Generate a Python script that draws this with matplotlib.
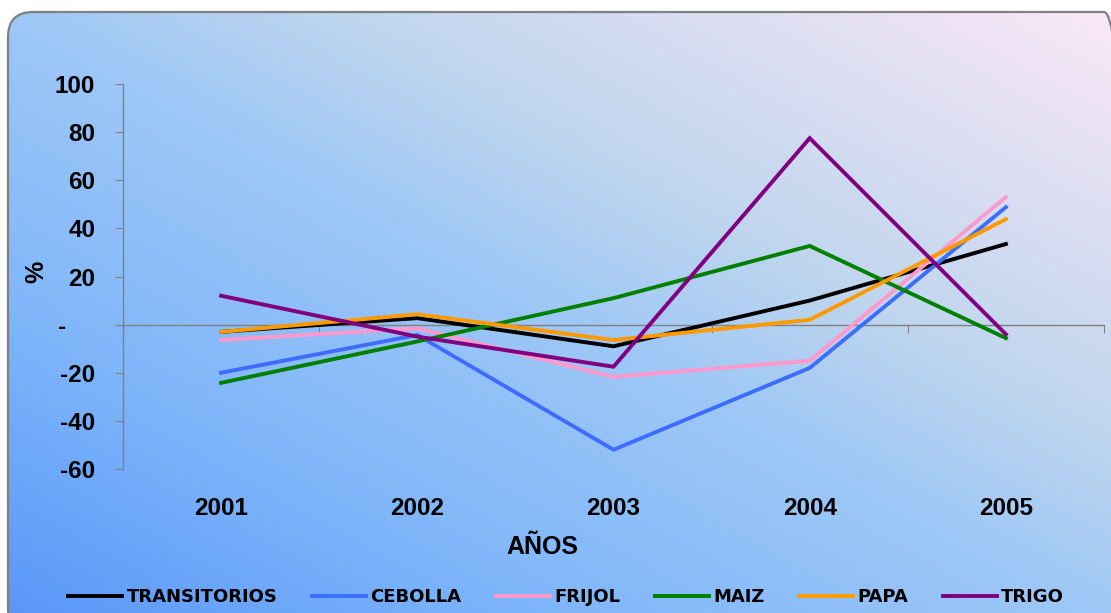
import matplotlib
matplotlib.use("Agg")
import matplotlib.pyplot as plt
import numpy as np
from matplotlib.colors import LinearSegmentedColormap
from matplotlib.patches import FancyBboxPatch
from matplotlib.ticker import FixedLocator, FixedFormatter
from matplotlib.transforms import ScaledTranslation

plt.rcParams['font.family'] = ['Liberation Sans', 'DejaVu Sans']

# data (% change per year)
years = ['2001', '2002', '2003', '2004', '2005']
transitorios = [-3, 2.7, -9, 10, 33.5]
cebolla = [-20, -4.3, -52, -18, 48.8]
frijol = [-6.4, -1.5, -21.7, -15, 53]
maiz = [-24.2, -7, 11, 32.7, -5.6]
papa = [-3, 4.3, -6.4, 2, 43.8]
trigo = [12, -5, -17.5, 77.5, -4]

series_names = ['TRANSITORIOS', 'CEBOLLA', 'FRIJOL', 'MAIZ', 'PAPA', 'TRIGO']
series_colors = ['#000000', '#3d6dff', '#ff99cc', '#008000', '#ff9900', '#800080']
y_ticks = [-60, -40, -20, 0, 20, 40, 60, 80, 100]
y_tick_labels = ['-60', '-40', '-20', '-', '20', '40', '60', '80', '100']

W, H = 1111, 613
fig = plt.figure(figsize=(W / 100, H / 100), dpi=100)

# background: rounded box with diagonal gradient
bg = fig.add_axes([0, 0, 1, 1])
bg.set_xlim(0, W)
bg.set_ylim(0, H)
bg.axis('off')
cmap = LinearSegmentedColormap.from_list('bg', [
    (0.0, '#5a97f8'), (0.25, '#7fb6fa'), (0.5, '#9fc8f6'),
    (0.65, '#c0d6ee'), (0.85, '#e2e0f3'), (1.0, '#fce8f8')])
u = np.linspace(0, 1, W)[None, :]
v = np.linspace(0, 1, H)[:, None]
grad = (u + v) / 2
img = bg.imshow(grad, cmap=cmap, origin='lower', extent=(0, W, 0, H),
                aspect='auto', vmin=0, vmax=1)
box = FancyBboxPatch((8, -20), W + 10, H - 12 + 20,
                     boxstyle='round,pad=0,rounding_size=25',
                     facecolor='none', edgecolor='#808080', linewidth=1.6)
bg.add_patch(box)
img.set_clip_path(box)

# main chart
ax = fig.add_axes([123 / W, 144 / H, 981 / W, 385 / H])
ax.patch.set_alpha(0)
x = np.arange(1, len(years) + 1)
all_series = [transitorios, cebolla, frijol, maiz, papa, trigo]
for vals, name, col in zip(all_series, series_names, series_colors):
    ax.plot(x, vals, color=col, linewidth=2.8, label=name, solid_joinstyle='miter')

ax.set_xlim(0.5, len(years) + 0.5)
ax.set_ylim(-60, 100)

for side in ['top', 'right', 'bottom']:
    ax.spines[side].set_visible(False)
ax.spines['left'].set_color('#808080')
ax.spines['left'].set_linewidth(1.0)

ax.yaxis.set_major_locator(FixedLocator(y_ticks))
ax.yaxis.set_major_formatter(FixedFormatter(y_tick_labels))
ax.tick_params(axis='y', direction='out', length=6, color='#808080', pad=14,
               labelsize=17.5)
for lab in ax.get_yticklabels():
    lab.set_fontweight('bold')
# accounting-style zero dash sits further left
zero_lab = ax.get_yticklabels()[y_ticks.index(0)]
zero_lab.set_transform(zero_lab.get_transform() + ScaledTranslation(-0.29, 0, fig.dpi_scale_trans))

ax.set_xticks(x)
ax.set_xticklabels(years, fontweight='bold')
ax.tick_params(axis='x', length=0, pad=20, labelsize=17.5)

# category axis drawn through zero
zero_ax = ax.secondary_xaxis(60 / 160)
zero_ax.spines['bottom'].set_color('#808080')
zero_ax.spines['bottom'].set_linewidth(1.0)
zero_ax.set_xticks(np.arange(0.5, len(years) + 1, 1.0))
zero_ax.set_xticklabels([])
zero_ax.tick_params(axis='x', direction='out', length=6, color='#808080')

ax.set_xlabel('AÑOS', fontsize=18, fontweight='bold')
ax.xaxis.set_label_coords(0.428, -0.172)
ax.set_ylabel('%', fontsize=18, fontweight='bold')
ax.yaxis.set_label_coords(-0.076, 0.512)

leg = ax.legend(loc='center', bbox_to_anchor=(566 / W, 16 / H),
                bbox_transform=fig.transFigure, ncol=6, frameon=False,
                handlelength=3.0, handletextpad=0.25, columnspacing=1.9,
                prop={'family': 'DejaVu Sans', 'weight': 'bold', 'size': 13})

fig.savefig('out.png', dpi=100)
